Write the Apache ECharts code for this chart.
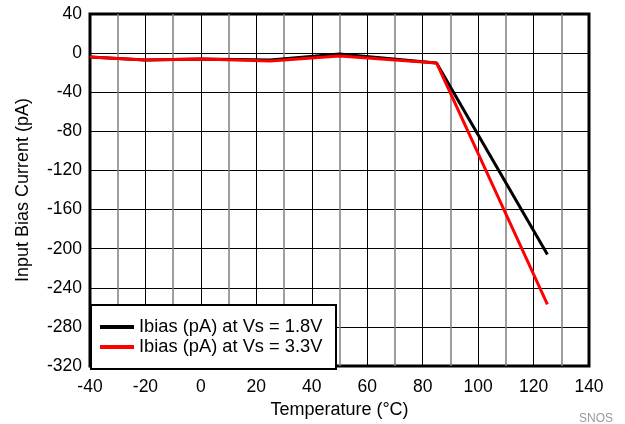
<!DOCTYPE html>
<html><head><meta charset="utf-8">
<script src="https://cdn.jsdelivr.net/npm/echarts@6/dist/echarts.min.js"></script>
<style>html,body{margin:0;padding:0;background:#fff}#c{width:625px;height:424px}</style>
</head><body><div id="c"></div>
<script>
const temps = [-40, -20, 0, 25, 50, 85, 125];
const ibias18 = [-4, -7, -6, -7, -1, -10, -206];
const ibias33 = [-4, -7, -6, -8, -3, -10, -257];
const seriesNames = ['Ibias (pA) at Vs = 1.8V', 'Ibias (pA) at Vs = 3.3V'];
const xTitle = 'Temperature (\u00B0C)';
const yTitle = 'Input Bias Current (pA)';

const font = 'Liberation Sans, Arial, sans-serif';
const chart = echarts.init(document.getElementById('c'));
chart.setOption({
  animation: false,
  textStyle: {fontFamily: font},
  grid: {left: 90, right: 36, top: 14, bottom: 55, show: true, borderColor: '#000', borderWidth: 3, containLabel: false},
  xAxis: {
    type: 'value', min: -40, max: 140, interval: 20,
    axisLine: {show: false}, axisTick: {show: false},
    axisLabel: {color: '#000', fontSize: 17.5, margin: 12, fontFamily: font},
    splitLine: {show: true, lineStyle: {color: '#000', width: 1}},
    minorTick: {show: false, splitNumber: 2},
    minorSplitLine: {show: true, lineStyle: {color: '#808080', width: 1.5}},
    name: xTitle, nameLocation: 'middle', nameGap: 32,
    nameTextStyle: {color: '#000', fontSize: 18, fontFamily: font}
  },
  yAxis: {
    type: 'value', min: -320, max: 40, interval: 40,
    axisLine: {show: false}, axisTick: {show: false},
    axisLabel: {color: '#000', fontSize: 17.5, margin: 8, fontFamily: font},
    splitLine: {show: true, lineStyle: {color: '#000', width: 1}},
    name: yTitle, nameLocation: 'middle', nameGap: 58,
    nameTextStyle: {color: '#000', fontSize: 18, fontFamily: font}
  },
  legend: {
    orient: 'vertical', left: 100, top: 317, padding: 0, itemGap: 0,
    icon: 'rect', itemWidth: 34, itemHeight: 4, itemTextGap: 10, z: 10,
    textStyle: {color: '#000', fontSize: 18.3, lineHeight: 20, fontFamily: font},
    data: seriesNames
  },
  graphic: [
    {type: 'rect', z: 5, shape: {x: 91, y: 305, width: 245, height: 64}, style: {fill: '#fff', stroke: '#000', lineWidth: 2}},
    {type: 'text', z: 5, left: 579, top: 413, style: {text: 'SNOS', fill: '#999', fontSize: 12, fontFamily: font}}
  ],
  series: [
    {name: seriesNames[0], type: 'line', symbol: 'none', color: '#000', lineStyle: {width: 3, color: '#000'}, z: 2,
     data: temps.map((t, i) => [t, ibias18[i]])},
    {name: seriesNames[1], type: 'line', symbol: 'none', color: '#ff0000', lineStyle: {width: 3, color: '#ff0000'}, z: 3,
     data: temps.map((t, i) => [t, ibias33[i]])}
  ]
});
</script></body></html>
